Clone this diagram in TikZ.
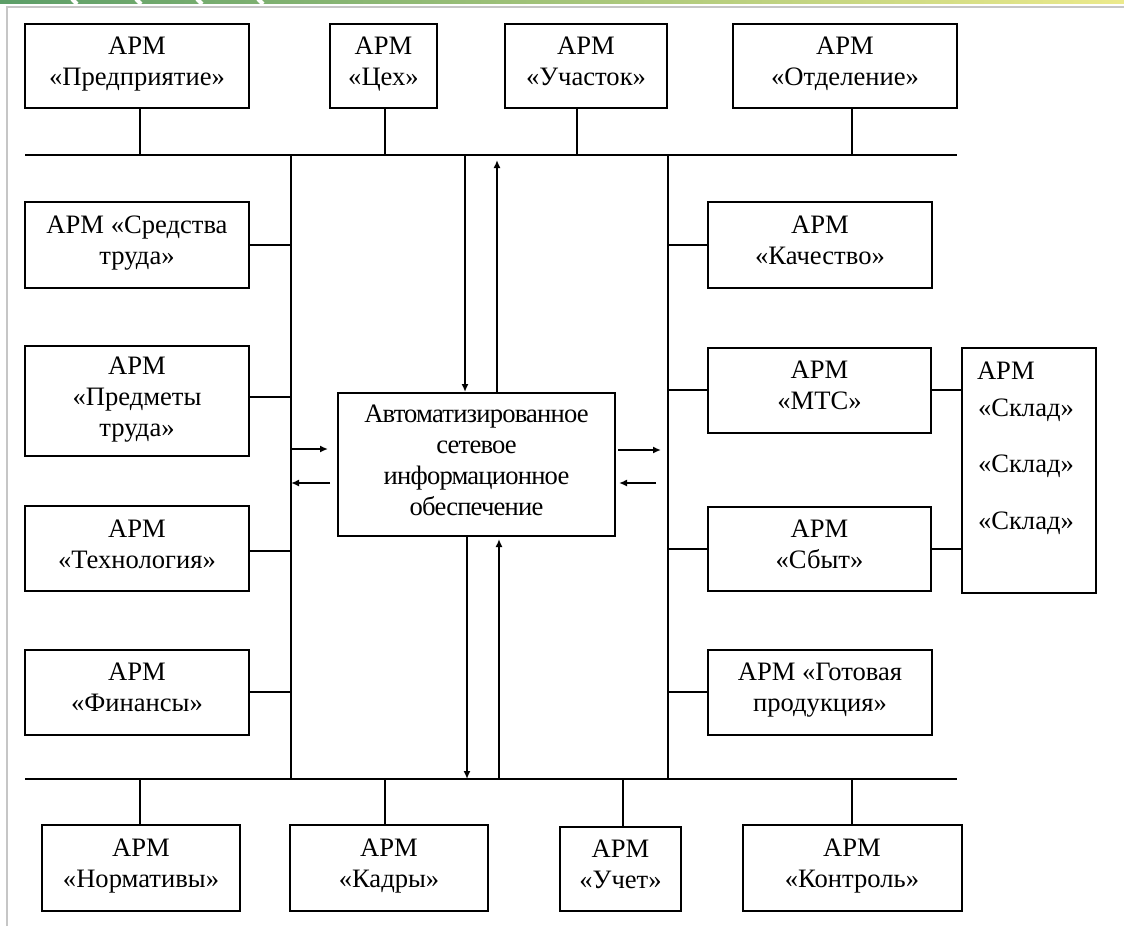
\documentclass[tikz,border=0pt]{standalone}
\usepackage{fontspec}
\setmainfont{Liberation Serif}
\usetikzlibrary{arrows.meta}
\begin{document}
\begin{tikzpicture}[x=0.5pt, y=-0.5pt, line width=1pt,
    font=\fontsize{13.3}{15.5}\selectfont,
    arm/.style={draw, rectangle, align=center, inner sep=0pt, minimum height=42.5pt,
        execute at end node=\strut},
    txt/.style={anchor=west, inner sep=0pt}]
    \useasboundingbox (0,0) rectangle (1124,926);
    % ramka slajda
    \shade[left color={rgb,255:red,92;green,158;blue,104}, right color={rgb,255:red,236;green,234;blue,140}] (0,0) rectangle (1124,3);
    \foreach \x in {72,136,197,258} \draw[white, line width=2pt] (\x,-1) -- (\x+5,4);
    \draw[gray!45, line width=0.6pt] (7,926) -- (7,7) -- (1124,7);
    % shiny
    \coordinate (tl) at (25,155);
    \coordinate (tr) at (957,155);
    \coordinate (bl) at (25,779);
    \coordinate (br) at (957,779);
    \coordinate (lt) at (291,155);
    \coordinate (lb) at (291,779);
    \coordinate (rt) at (668,155);
    \coordinate (rb) at (668,779);
    % verh
    \node[arm, minimum width=112pt, minimum height=42pt] (pred) at (137,66) {АРМ\\«Предприятие»};
    \node[arm, minimum width=53.5pt, minimum height=42pt] (ceh) at (383.5,66) {АРМ\\«Цех»};
    \node[arm, minimum width=81pt, minimum height=42pt] (uch) at (586,66) {АРМ\\«Участок»};
    \node[arm, minimum width=112pt, minimum height=42pt] (otd) at (845,66) {АРМ\\«Отделение»};
    % sleva
    \node[arm, minimum width=112pt, minimum height=43pt] (sred) at (137,245) {АРМ «Средства\\труда»};
    \node[arm, minimum width=112pt, minimum height=55pt] (predm) at (137,401) {АРМ\\«Предметы\\труда»};
    \node[arm, minimum width=112pt] (tech) at (137,548.5) {АРМ\\«Технология»};
    \node[arm, minimum width=112pt] (fin) at (137,692) {АРМ\\«Финансы»};
    % sprava
    \node[arm, minimum width=112pt, minimum height=43pt] (kach) at (820,245) {АРМ\\«Качество»};
    \node[arm, minimum width=111.5pt] (mts) at (819.5,390) {АРМ\\«МТС»};
    \node[arm, minimum width=111.5pt, minimum height=42pt] (sbyt) at (819.5,549) {АРМ\\«Сбыт»};
    \node[arm, minimum width=112pt] (gotov) at (820,692) {АРМ «Готовая\\продукция»};
    \node[draw, minimum width=67pt, minimum height=122.5pt] (sklad) at (1029,470.5) {};
    \node[txt] (sk0) at (976,371) {АРМ};
    \node[txt] (sk1) at (977,410) {«Склад»};
    \node[txt] (sk2) at (977,466) {«Склад»};
    \node[txt] (sk3) at (977,523) {«Склад»};
    % niz
    \node[arm, minimum width=99pt, minimum height=43pt] (norm) at (141,868) {АРМ\\«Нормативы»};
    \node[arm, minimum width=99pt, minimum height=43pt] (kadr) at (389,868) {АРМ\\«Кадры»};
    \node[arm, minimum width=60.5pt, minimum height=42pt] (uchet) at (620.5,869) {АРМ\\«Учет»};
    \node[arm, minimum width=109.5pt, minimum height=43pt] (kontr) at (852,868) {АРМ\\«Контроль»};
    % centr
    \node[arm, minimum width=138.5pt, minimum height=71.5pt,
        font=\fontsize{13.3}{15.5}\selectfont\addfontfeature{LetterSpace=-3}] (asio) at (476.5,464.5)
        {Автоматизированное\\сетевое\\информационное\\обеспечение};
    \draw (tl) -- (tr);
    \draw (bl) -- (br);
    \draw (lt) -- (lb);
    \draw (rt) -- (rb);
    \draw ([xshift=1.5pt]pred.south) -- ([xshift=1.5pt]pred.south |- tl);
    \draw ([xshift=0.75pt]ceh.south) -- ([xshift=0.75pt]ceh.south |- tl);
    \draw ([xshift=-4.5pt]uch.south) -- ([xshift=-4.5pt]uch.south |- tl);
    \draw ([xshift=3.5pt]otd.south) -- ([xshift=3.5pt]otd.south |- tl);
    \draw (sred.east) -- (sred.east -| lt);
    \draw ([yshift=2pt]predm.east) -- ([yshift=2pt]predm.east -| lt);
    \draw ([yshift=-1.25pt]tech.east) -- ([yshift=-1.25pt]tech.east -| lt);
    \draw (fin.east) -- (fin.east -| lt);
    \draw (kach.west) -- (kach.west -| rt);
    \draw (mts.west) -- (mts.west -| rt);
    \draw (sbyt.west) -- (sbyt.west -| rt);
    \draw (gotov.west) -- (gotov.west -| rt);
    \draw (mts.east) -- (mts.east -| sklad.west);
    \draw (sbyt.east) -- (sbyt.east -| sklad.west);
    \draw ([xshift=-0.5pt]norm.north) -- ([xshift=-0.5pt]norm.north |- bl);
    \draw ([xshift=-2pt]kadr.north) -- ([xshift=-2pt]kadr.north |- bl);
    \draw ([xshift=1.25pt]uchet.north) -- ([xshift=1.25pt]uchet.north |- bl);
    \draw (kontr.north) -- (kontr.north |- bl);
    % strelki
    \draw[-{Latex[length=4pt, width=3.5pt]}] ([xshift=-5.75pt]asio.north |- tl) -- ([xshift=-5.75pt]asio.north);
    \draw[-{Latex[length=4pt, width=3.5pt]}] ([xshift=10.25pt]asio.north) -- ([xshift=10.25pt, yshift=-2.5pt]asio.north |- tl);
    \draw[-{Latex[length=4pt, width=3.5pt]}] ([xshift=-4.75pt]asio.south) -- ([xshift=-4.75pt]asio.south |- bl);
    \draw[-{Latex[length=4pt, width=3.5pt]}] ([xshift=11.25pt]asio.south |- bl) -- ([xshift=11.25pt, yshift=-1pt]asio.south);
    \draw[-{Latex[length=4pt, width=3.5pt]}] ([yshift=7.75pt]asio.west -| lt) -- ([xshift=-4.5pt, yshift=7.75pt]asio.west);
    \draw[-{Latex[length=4pt, width=3.5pt]}] ([xshift=-3.5pt, yshift=-9.25pt]asio.west) -- ([yshift=-9.25pt]asio.west -| lt);
    \draw[-{Latex[length=4pt, width=3.5pt]}] ([xshift=1pt, yshift=7.25pt]asio.east) -- ([xshift=-3.5pt, yshift=7.25pt]asio.east -| rt);
    \draw[-{Latex[length=4pt, width=3.5pt]}] ([xshift=-6pt, yshift=-9.25pt]asio.east -| rt) -- ([xshift=1.5pt, yshift=-9.25pt]asio.east);
\end{tikzpicture}
\end{document}
